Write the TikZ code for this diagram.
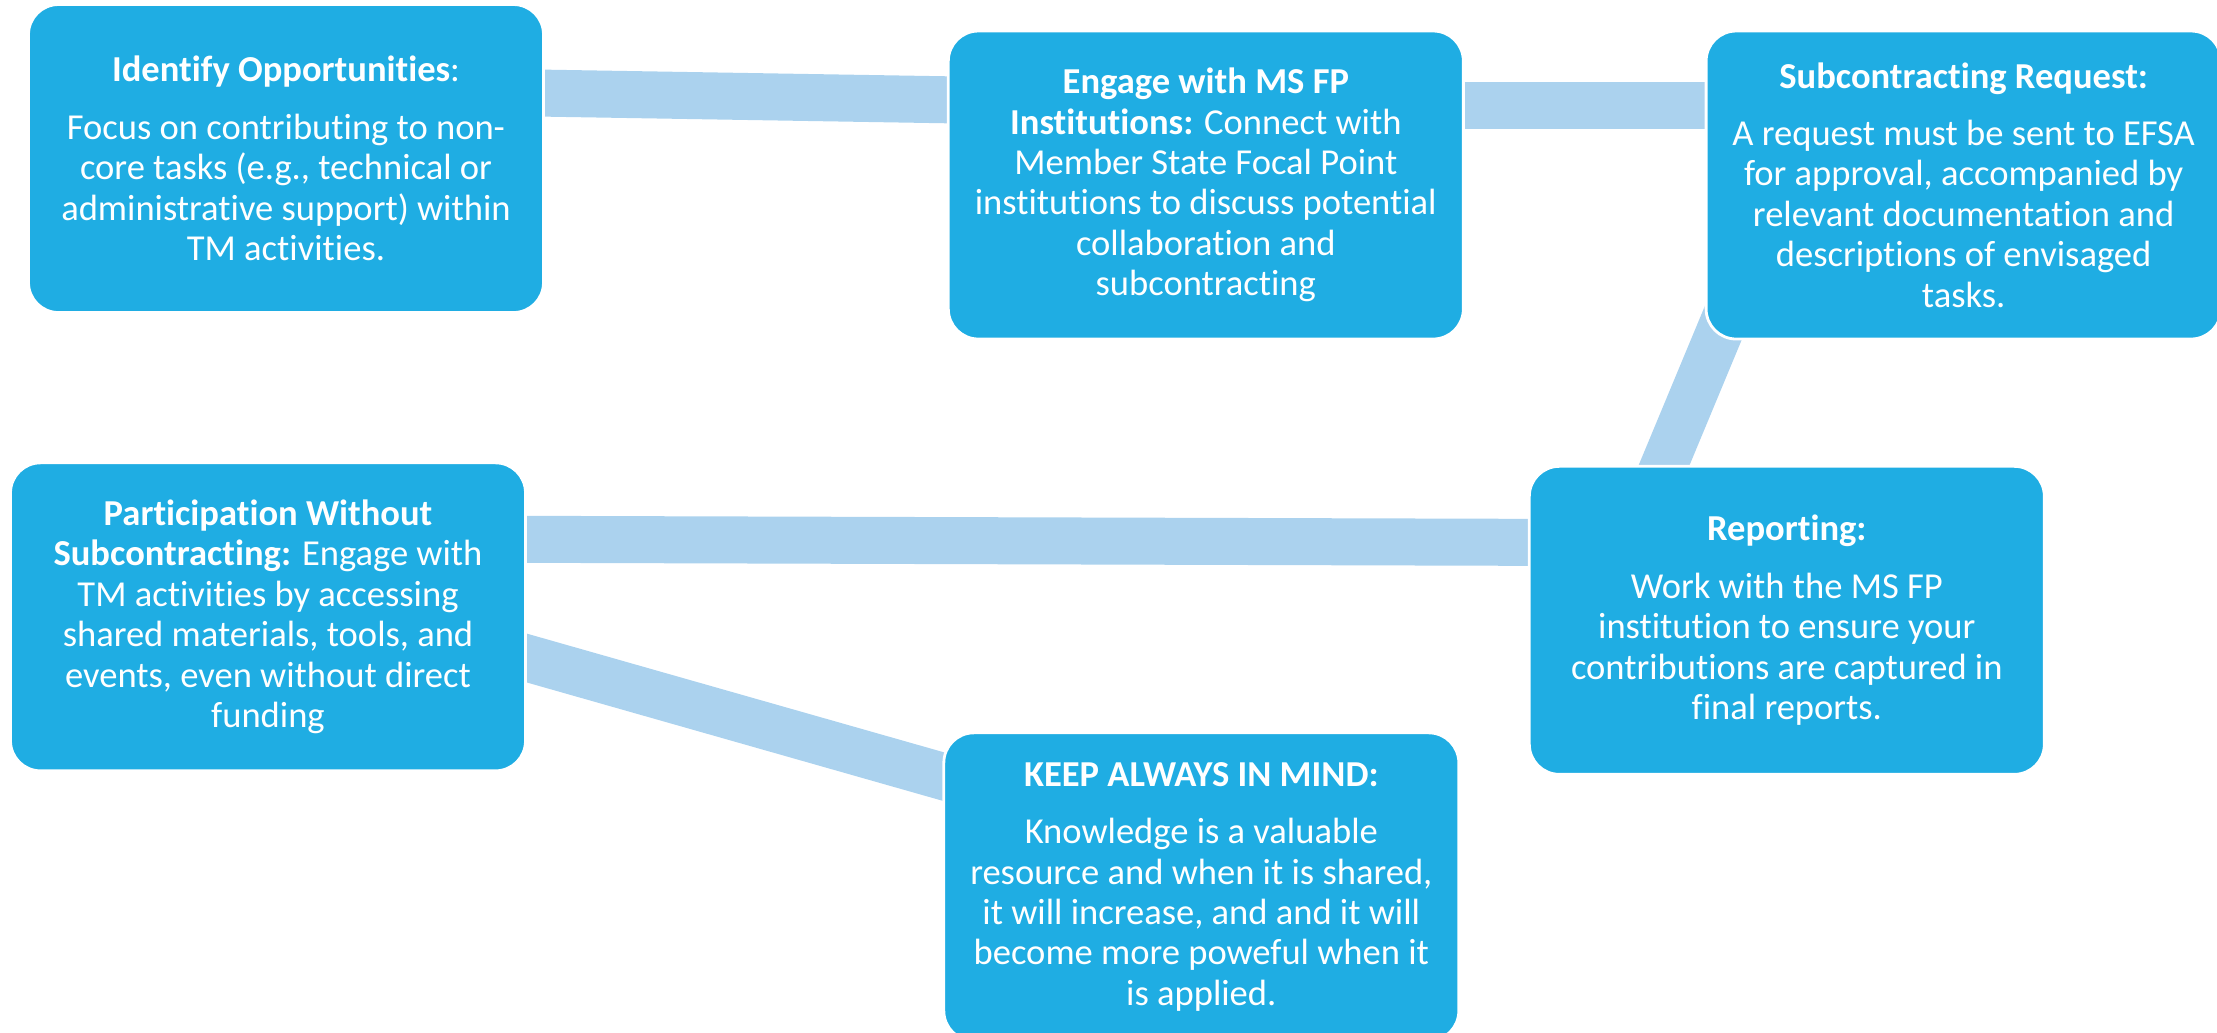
\documentclass[tikz,border=0pt]{standalone}
\usepackage{fontspec}
\setmainfont{Carlito}[Ligatures=NoCommon]
\usepackage{tikz}
\usetikzlibrary{positioning, backgrounds}
\definecolor{boxblue}{RGB}{31,173,227}
\definecolor{linkblue}{RGB}{171,210,238}

\begin{document}
\begin{tikzpicture}[
        box/.style={draw=white, line width=0.8pt, fill=boxblue, rounded corners=0.3cm, align=center, text=white, inner sep=0pt,
            minimum width=5.15cm, minimum height=3.08cm, font=\fontsize{10.4}{11.5}\selectfont},
        link/.style={draw=linkblue, line width=0.47cm}
    ]
    \useasboundingbox (0,0) rectangle (22.17,-10.32);

    % Nodes
    \node[box] at (2.86,-1.585) (ident) {\textbf{Identify Opportunities}:\\[4.8pt]Focus on contributing to non-\\core tasks (e.g., technical or\\administrative support) within\\TM activities.};
    \node[box, right=4.02cm of ident, yshift=-0.265cm] (engage) {\textbf{Engage with MS FP}\\\textbf{Institutions:} Connect with\\Member State Focal Point\\institutions to discuss potential\\collaboration and\\subcontracting};
    \node[box, right=2.40cm of engage] (request) {\textbf{Subcontracting Request:}\\[4.8pt]A request must be sent to EFSA\\for approval, accompanied by\\relevant documentation and\\descriptions of envisaged\\tasks.};

    \node[box, below=1.475cm of ident, xshift=-0.18cm] (without) {\textbf{Participation Without}\\\textbf{Subcontracting:} Engage with\\TM activities by accessing\\shared materials, tools, and\\events, even without direct\\funding};
    \node[box, right=10.01cm of without, yshift=-0.035cm] (report) {\textbf{Reporting:}\\[4.8pt]Work with the MS FP\\institution to ensure your\\contributions are captured in\\final reports.};
    \node[box, below=3.91cm of engage, xshift=-0.045cm] (mind) {\textbf{KEEP ALWAYS IN MIND:}\\[4.8pt]Knowledge is a valuable\\resource and when it is shared,\\it will increase, and and it will\\become more poweful when it\\is applied.};

    % Connectors (behind the boxes)
    \begin{scope}[on background layer]
        \draw[link] ([xshift=-5mm, yshift=6.62mm]ident.east) -- ([xshift=5mm, yshift=8.44mm]engage.west);
        \draw[link] ([yshift=7.95mm]engage.east) -- ([yshift=7.95mm]request.west);
        \draw[link] ([xshift=-21.06mm, yshift=8.9mm]request.south) -- ([xshift=-14.26mm, yshift=-4.8mm]report.north);
        \draw[link] ([yshift=7.75mm]without.east) -- ([yshift=7.8mm]report.west);
        \draw[link] ([xshift=-5mm, yshift=-2.7mm]without.east) -- ([xshift=5mm, yshift=9.63mm]mind.west);
    \end{scope}

\end{tikzpicture}
\end{document}
